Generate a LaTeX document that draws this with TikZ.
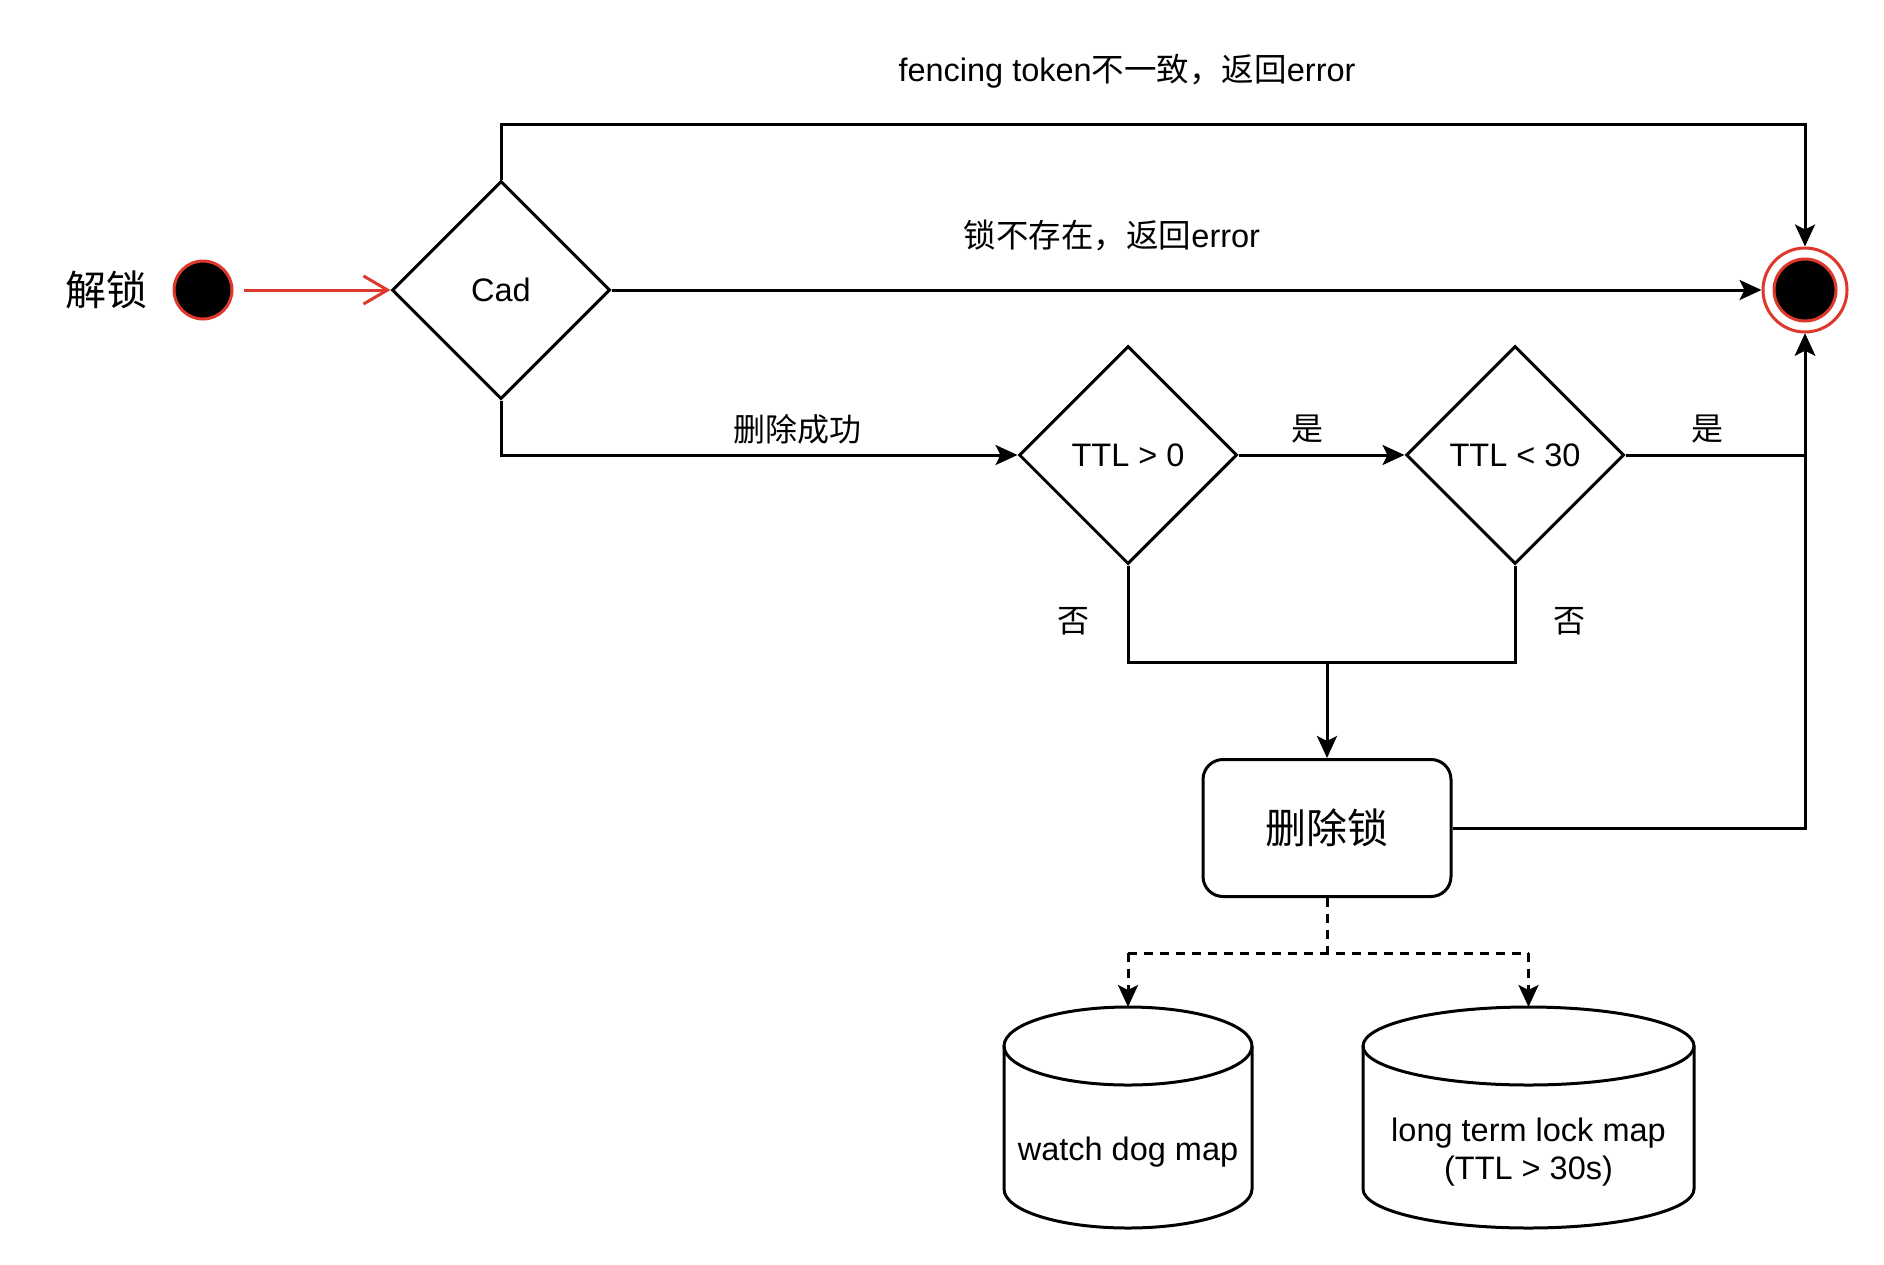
\documentclass[tikz,border=0pt]{standalone}
\usepackage{fontspec}
\setmainfont{Liberation Sans}
\newfontfamily\cjk{Noto Sans CJK SC}
\usetikzlibrary{shapes.geometric,arrows.meta,calc}
\definecolor{umlred}{RGB}{222,56,43}
\begin{document}
\begin{tikzpicture}[x=1pt,y=-1pt,
  line width=3pt,
  every node/.style={font=\fontsize{32.5}{38}\selectfont},
  dec/.style={diamond,draw,aspect=1,inner sep=0pt,minimum width=218pt,minimum height=218pt},
  arr/.style={-{Stealth[length=22pt,width=20pt,inset=5pt]}},
  lbl/.style={inner sep=0pt},
  big/.style={font=\cjk\fontsize{41}{46}\selectfont},
  cjklbl/.style={inner sep=0pt,font=\cjk\fontsize{32}{38}\selectfont},
  cylbox/.style={inner sep=0pt,outer sep=0pt,minimum width=#1,minimum height=221pt},
  dsh/.style={dash pattern=on 9pt off 7pt}
  ]
\useasboundingbox (0,0) rectangle (1884,1264);

% nodes
\node[big,lbl] (title) at (106,290) {解锁};
\node[circle,draw=umlred,fill=black,minimum size=58pt,inner sep=0pt] (start) at (203,290) {};
\node[dec] (cad) at (501,290) {Cad};
\node[circle,draw=umlred,fill=white,minimum size=84pt,inner sep=0pt] (end) at (1805,290) {};
\node[circle,draw=umlred,fill=black,minimum size=62pt,inner sep=0pt] (endin) at (1805,290) {};
\node[dec] (ttl0) at (1128,455) {TTL > 0};
\node[dec] (ttl30) at (1515,455) {TTL < 30};
\node[draw,rounded corners=20pt,minimum width=248pt,minimum height=137pt,inner sep=0pt,big] (del) at (1327,828) {删除锁};
\node[cylbox=248pt] (cyl1) at (1128,1117.5) {};
\node[cylbox=331pt] (cyl2) at (1528.5,1117.5) {};
\node[lbl] (cyl1t) at (1128,1152) {watch dog map};
\node[lbl,align=center] (cyl2t) at (1528.5,1152) {long term lock map\\(TTL > 30s)};

% labels
\node[lbl] (l1) at (1127,71) {fencing token{\cjk 不一致，返回}error};
\node[lbl] (l2) at (1112,235) {{\cjk 锁不存在，返回}error};
\node[cjklbl] (l3) at (797,429) {删除成功};
\node[cjklbl] (l4) at (1307,429) {是};
\node[cjklbl] (l5) at (1707,429) {是};
\node[cjklbl] (l6) at (1073,621) {否};
\node[cjklbl] (l7) at (1569,621) {否};

% cylinders
\foreach \c/\rx in {cyl1/124,cyl2/165.5}{
  \draw ($(\c.north)+(0,39)$) ellipse [x radius=\rx, y radius=39];
  \draw ($(\c.north west)+(0,39)$) -- ($(\c.south west)+(0,-39)$)
        arc [start angle=180, end angle=0, x radius=\rx, y radius=39]
        -- ($(\c.north east)+(0,39)$);
}

% connectors
\draw[umlred,-{Straight Barb[length=24pt,width=28pt]}] (start.east) ++(10,0) -- (cad.west);
\coordinate (topL) at (501,124);
\coordinate (topR) at (1805,124);
\draw[arr] (cad.north) -- (topL) -- (topR) -- (end.north);
\draw[arr] (cad.east) -- (end.west);
\draw[arr] (cad.south) |- (ttl0.west);
\draw[arr] (ttl0.east) -- (ttl30.west);
\draw[arr] (ttl30.east) -| (end.south);
\draw[arr] (del.east) -| (end.south);
\coordinate (j1) at (1128,662);
\coordinate (j2) at (1515,662);
\coordinate (jm) at (1327,662);
\draw (ttl0.south) -- (j1) -- (j2) -- (ttl30.south);
\draw[arr] (jm) -- (del.north);
\coordinate (d0) at (1327,953);
\coordinate (d1) at (1128,953);
\coordinate (d2) at (1528.5,953);
\draw[dsh] (del.south) -- (d0);
\draw[dsh] (d1) -- (d2);
\draw[dsh,arr] (d1) -- (cyl1.north);
\draw[dsh,arr] (d2) -- (cyl2.north);
\end{tikzpicture}
\end{document}
